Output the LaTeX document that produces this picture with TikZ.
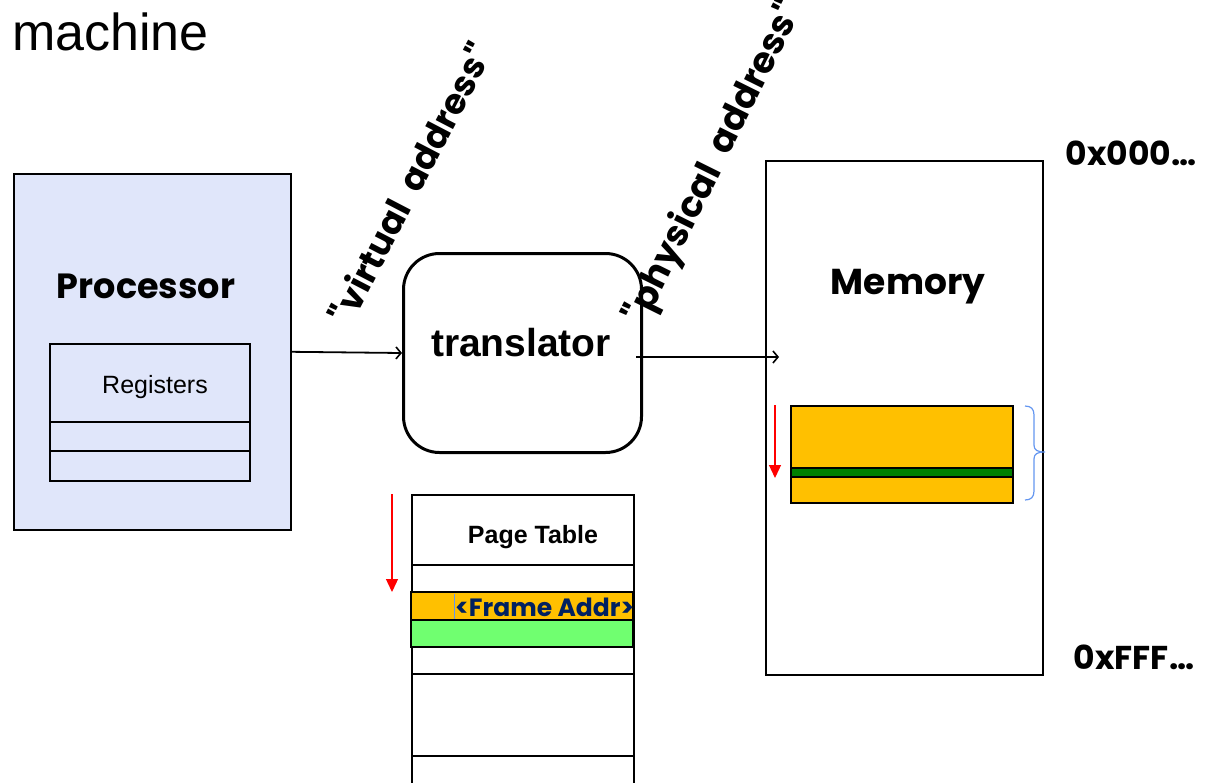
\documentclass[tikz,border=0pt]{standalone}
\usepackage{fontspec}
\setmainfont{Liberation Sans}
\newfontfamily\comic{Poppins}
\usetikzlibrary{arrows.meta}
\definecolor{procfill}{RGB}{224,230,250}
\definecolor{orangefill}{RGB}{255,192,0}
\definecolor{greenstripe}{RGB}{0,128,0}
\definecolor{lightgreen}{RGB}{112,255,112}
\definecolor{navytext}{RGB}{0,32,96}
\definecolor{bracecol}{RGB}{100,150,240}
\begin{document}
\begin{tikzpicture}[x=1pt,y=-1pt,
  box/.style={draw=black, line width=1.6pt, inner sep=0pt, anchor=north west},
  conn/.style={line width=1.8pt, -{Straight Barb[length=5pt,width=12pt,line width=1.6pt]}},
  redarrow/.style={red, line width=1.3pt, -{Triangle[length=13pt,width=12pt]}},
  comicb/.style={font=\comic\bfseries\fontsize{#1}{#1}\selectfont, inner sep=0pt},
  rowline/.style={line width=1.6pt}]
\useasboundingbox (0,0) rectangle (1220,782);
\clip (0,0) rectangle (1220,782);

% title fragment
\node[anchor=base west, inner sep=0pt, font=\fontsize{52}{60}\selectfont] (title) at (12,50) {machine};

% processor
\node[box, fill=procfill, minimum width=277pt, minimum height=356pt] (proc) at (13,173) {};
\node[comicb=35] (proclabel) at (146,286) {Processor};
\node[box, fill=procfill, minimum width=200pt, minimum height=137pt] (regs) at (49,343) {};
\node[inner sep=0pt, font=\fontsize{25}{30}\selectfont] (reglabel) at (155,387) {Registers};
\draw[rowline] (49,422) -- (249,422);
\draw[rowline] (49,451) -- (249,451);

% translator
\node[draw, line width=3pt, rounded corners=36pt, minimum width=238pt, minimum height=199pt, anchor=north west] (trans) at (402,252) {};
\node[inner sep=0pt, font=\bfseries\fontsize{39}{44}\selectfont] (translabel) at (521,343) {translator};

% memory
\node[box, line width=1.5pt, minimum width=277pt, minimum height=514pt] (mem) at (765,160) {};
\node[comicb=36] (memlabel) at (908,287) {Memory};
\node[box, fill=orangefill, minimum width=222pt, minimum height=97pt] (blk) at (790,405) {};
\node[box, fill=greenstripe, minimum width=222pt, minimum height=9pt] (stripe) at (790,467) {};
\coordinate (ma1) at (775,405);
\coordinate (ma2) at (775,478);
\draw[redarrow] (ma1) -- (ma2);
\draw[bracecol, line width=1.2pt] (1025,406) .. controls (1031,406) and (1034,409) .. (1034,415) -- (1034,445) .. controls (1034,450) and (1037,452) .. (1045,452) .. controls (1037,452) and (1034,454) .. (1034,459) -- (1034,491) .. controls (1034,497) and (1031,500) .. (1025,500);

\node[comicb=33] (top) at (1131,153) {0x000…};
\node[comicb=33] (bot) at (1134,657) {0xFFF…};

% connectors
\coordinate (memin) at (779,357);
\draw[conn] (proc.east) -- (trans.west);
\draw[conn] ([xshift=-7pt]trans.east |- memin) -- (memin);

% labels
\node[comicb=35, rotate=62.5] (va) at (410,183) {"virtual\hspace{0.45em}address"};
\node[comicb=36, rotate=63.6] (pa) at (715,163) {"physical\hspace{0.45em}address"};

% page table
\node[box, minimum width=222pt, minimum height=310pt] (pt) at (411,494) {};
\node[inner sep=0pt, font=\bfseries\fontsize{25}{28}\selectfont] (ptlabel) at (533,537) {Page Table};
\draw[rowline] (411,565) -- (633,565);
\draw[rowline, fill=orangefill] (411,592) rectangle (633,620);
\draw[rowline, fill=lightgreen] (411,620) rectangle (633,647);
\draw[rowline] (411,674) -- (633,674);
\draw[rowline] (411,756) -- (633,756);
\draw[bracecol, line width=1pt] (454,594) -- (454,619);
\node[comicb=25, text=navytext, anchor=west] (fa) at (455,607) {<Frame Addr>};
\coordinate (pa1) at (392,494);
\coordinate (pa2) at (392,592);
\draw[redarrow] (pa1) -- (pa2);
\end{tikzpicture}
\end{document}
